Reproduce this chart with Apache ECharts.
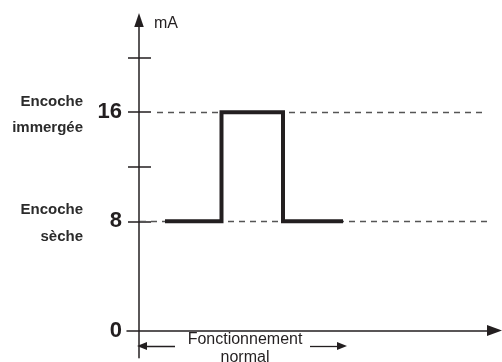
<!DOCTYPE html>
<html>
<head>
<meta charset="utf-8">
<script src="https://cdn.jsdelivr.net/npm/echarts@6/dist/echarts.min.js"></script>
<style>html,body{margin:0;padding:0;background:#fff;}#c{width:502px;height:362px;}</style>
</head>
<body>
<div id="c"></div>
<script>
// Signal (step) values
const signalX = [2.6, 8.25, 8.25, 14.4, 14.4, 20.4];
const signalY = [8, 8, 16, 16, 8, 8];
// Reference levels (mA)
const levelValues = [16, 8];
const levelStartX = [1.8, 0.1];
const levelEndX = [34.4, 35.1];
// Axis ticks and labels
const tickValues = [8, 12, 16, 20];
const labelValues = [0, 8, 16];
// Annotation texts
const unitLabel = 'mA';
const levelNames = [['Encoche', 'immergée'], ['Encoche', 'sèche']];
const spanLabel = ['Fonctionnement', 'normal'];
// "Fonctionnement normal" span arrows (x from, x to)
const spanArrowLeft = [3.6, 0.3];
const spanArrowRight = [17.1, 20.3];
const spanArrowY = -1.14;

const ink = '#231f20';
const font = '"Liberation Sans", Arial, Helvetica, sans-serif';

const chart = echarts.init(document.getElementById('c'), null, {renderer: 'canvas'});

const dashedLines = levelValues.map((v, i) => [
  {coord: [levelStartX[i], v], symbol: 'none'},
  {coord: [levelEndX[i], v], symbol: 'none'}
]);
const arrowLines = [
  [{coord: [spanArrowLeft[0], spanArrowY], symbol: 'none'}, {coord: [spanArrowLeft[1], spanArrowY], symbol: 'triangle', symbolSize: [8, 10]}],
  [{coord: [spanArrowRight[0], spanArrowY], symbol: 'none'}, {coord: [spanArrowRight[1], spanArrowY], symbol: 'triangle', symbolSize: [8, 10]}]
];

const option = {
  animation: false,
  backgroundColor: '#ffffff',
  grid: {left: 127, right: 7.5, top: 20, bottom: 4.2, containLabel: false},
  xAxis: {
    type: 'value', min: -1.2, max: 35.55,
    axisLine: {show: true, onZero: true, symbol: ['none', 'triangle'], symbolSize: [11, 15],
      lineStyle: {color: ink, width: 1.5}},
    axisTick: {show: false}, axisLabel: {show: false}, splitLine: {show: false}
  },
  yAxis: [
    {
      type: 'value', min: -2, max: 22.75,
      axisLine: {show: true, onZero: true, symbol: ['none', 'triangle'], symbolSize: [9.5, 14],
        lineStyle: {color: ink, width: 1.5}},
      axisTick: {show: false},
      axisLabel: {show: true, customValues: labelValues, margin: 5,
        fontFamily: font, fontSize: 22, fontWeight: 'bold', color: ink},
      splitLine: {show: false}
    },
    {
      type: 'value', min: -2, max: 22.75, position: 'left', offset: -24,
      axisLine: {show: false, onZero: false},
      axisTick: {show: true, customValues: tickValues, length: 23, inside: false,
        lineStyle: {color: ink, width: 1.5}},
      axisLabel: {show: false},
      splitLine: {show: false}
    }
  ],
  series: [
    {
      type: 'line', yAxisIndex: 0, data: [], showSymbol: false, z: 1,
      markLine: {
        silent: true, symbol: 'none', label: {show: false},
        lineStyle: {color: '#555', width: 1.3, type: [6, 5]},
        emphasis: {disabled: true},
        data: dashedLines
      }
    },
    {
      type: 'line', yAxisIndex: 0,
      data: signalX.map((x, i) => [x, signalY[i]]),
      showSymbol: false, symbol: 'none',
      lineStyle: {color: ink, width: 4, join: 'miter', cap: 'butt'},
      z: 5
    },
    {
      type: 'line', yAxisIndex: 0, data: [], showSymbol: false, z: 2,
      markLine: {
        silent: true, label: {show: false},
        lineStyle: {color: ink, width: 1.3, type: 'solid'},
        itemStyle: {color: ink},
        emphasis: {disabled: true},
        data: arrowLines
      }
    }
  ],
  graphic: [
    {type: 'text', x: 154, y: 24, style: {text: unitLabel, font: '16px ' + font, fill: ink, verticalAlign: 'middle', align: 'left'}},
    {type: 'text', x: 83, y: 102, style: {text: levelNames[0][0], font: 'bold 15px ' + font, fill: '#2b2b2b', verticalAlign: 'middle', align: 'right'}},
    {type: 'text', x: 83, y: 128, style: {text: levelNames[0][1], font: 'bold 15px ' + font, fill: '#2b2b2b', verticalAlign: 'middle', align: 'right'}},
    {type: 'text', x: 83, y: 210, style: {text: levelNames[1][0], font: 'bold 15px ' + font, fill: '#2b2b2b', verticalAlign: 'middle', align: 'right'}},
    {type: 'text', x: 83, y: 237, style: {text: levelNames[1][1], font: 'bold 15px ' + font, fill: '#2b2b2b', verticalAlign: 'middle', align: 'right'}},
    {type: 'text', x: 245, y: 340, style: {text: spanLabel[0], font: '16px ' + font, fill: ink, verticalAlign: 'middle', align: 'center'}},
    {type: 'text', x: 245, y: 358, style: {text: spanLabel[1], font: '16px ' + font, fill: ink, verticalAlign: 'middle', align: 'center'}}
  ]
};
chart.setOption(option);
</script>
</body>
</html>
